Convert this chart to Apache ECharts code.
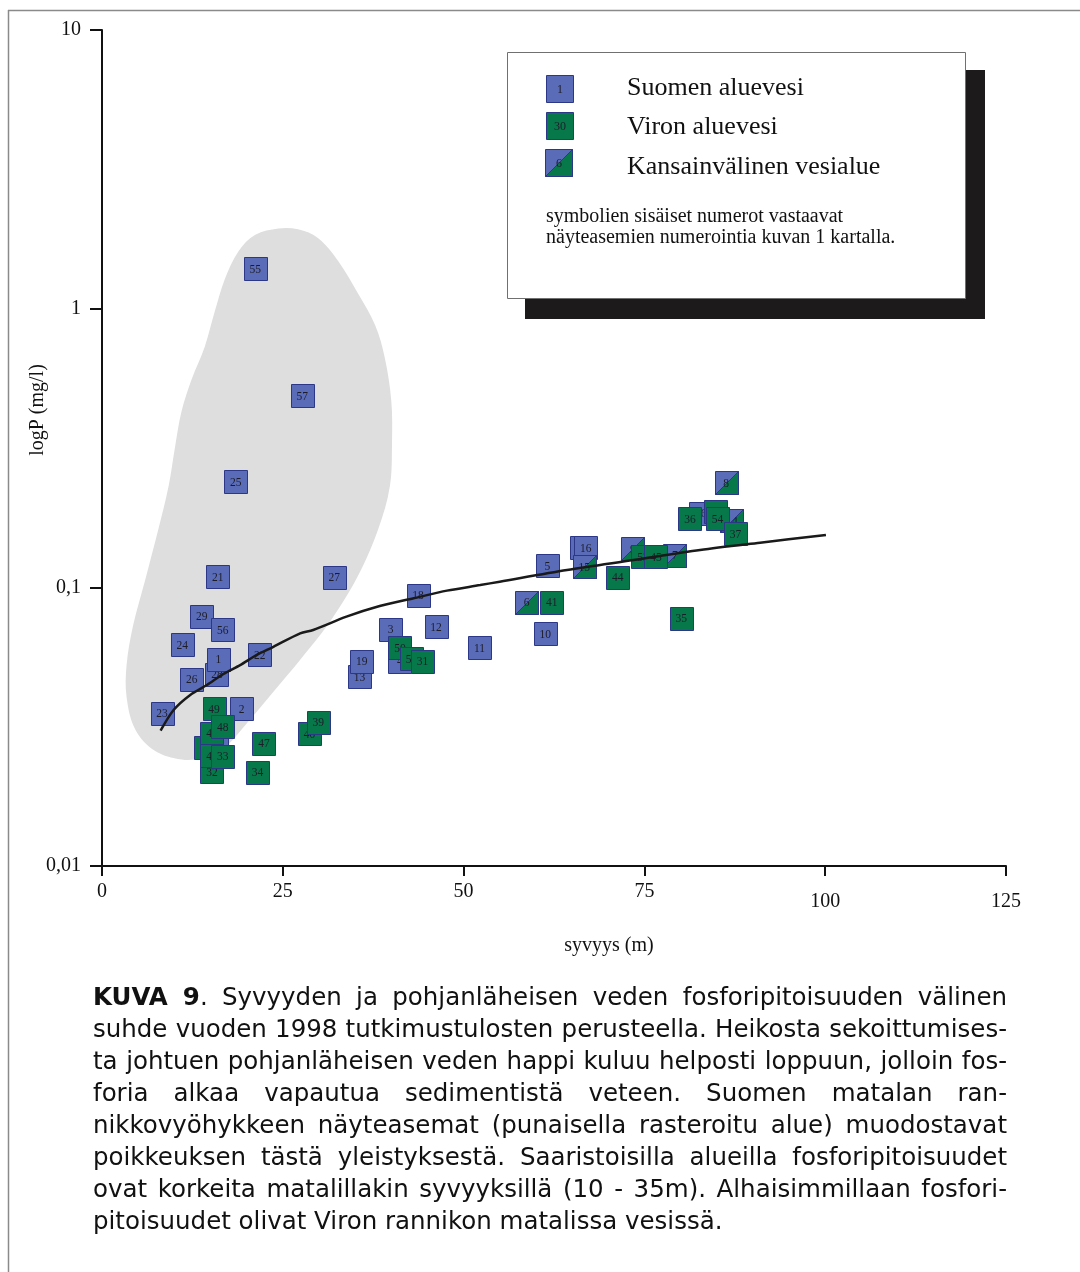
<!DOCTYPE html>
<html>
<head>
<meta charset="utf-8">
<script src="https://cdn.jsdelivr.net/npm/echarts@6/dist/echarts.min.js"></script>
<style>
html,body{margin:0;padding:0;background:#fff;}
#chart{position:absolute;left:0;top:0;width:1080px;height:1272px;}
#caption{position:absolute;left:93px;top:981px;width:914px;font-family:'DejaVu Sans',sans-serif;font-size:24.5px;line-height:32px;color:#111;}
#caption div{white-space:nowrap;height:32px;}
#caption span{white-space:nowrap;}
</style>
</head>
<body>
<div id="chart"></div>
<div id="caption">
<div><span><b>KUVA 9</b>. Syvyyden ja pohjanläheisen veden fosforipitoisuuden välinen</span></div>
<div><span>suhde vuoden 1998 tutkimustulosten perusteella. Heikosta sekoittumises-</span></div>
<div><span>ta johtuen pohjanläheisen veden happi kuluu helposti loppuun, jolloin fos-</span></div>
<div><span>foria alkaa vapautua sedimentistä veteen. Suomen matalan ran-</span></div>
<div><span>nikkovyöhykkeen näyteasemat (punaisella rasteroitu alue) muodostavat</span></div>
<div><span>poikkeuksen tästä yleistyksestä. Saaristoisilla alueilla fosforipitoisuudet</span></div>
<div><span>ovat korkeita matalillakin syvyyksillä (10 - 35m). Alhaisimmillaan fosfori-</span></div>
<div class="last"><span>pitoisuudet olivat Viron rannikon matalissa vesissä.</span></div>
</div>
<script>
// ---- data ----
const xTicks = [0, 25, 50, 75, 100, 125];
const yTicks = [0.01, 0.1, 1, 10];

// Suomen aluevesi (Finnish waters)
const suomiNo    = ['55','57','25','21','27','29','56','24','26','28','1','22','23','2','20','18','3','12','11','4','13','19','46','17','16','5','10'];
const suomiDepth = [21.2,27.7,18.5,16.0,32.1,13.8,16.7,11.1,12.4,15.9,16.1,21.8,8.3,19.3,15.8,43.7,39.9,46.2,52.2,41.2,35.6,35.9,82.8,66.3,66.9,61.6,61.3];
const suomiP     = [1.39,0.486,0.239,0.109,0.1085,0.0789,0.0703,0.0621,0.0468,0.0488,0.0553,0.0574,0.0353,0.0367,0.0272,0.0935,0.0706,0.0721,0.0607,0.0543,0.0477,0.0543,0.1848,0.1386,0.1386,0.1195,0.0682];

// Viron aluevesi (Estonian waters)
const vironNo    = ['38','43','49','48','32','42','33','47','34','40','39','50','51','31','41','44','53','45','35','36','52','54','37'];
const vironDepth = [14.3,15.2,15.5,16.7,15.2,15.2,16.7,22.4,21.5,28.7,29.9,41.2,42.8,44.3,62.2,71.3,74.8,76.6,80.1,81.3,84.8,85.1,87.6];
const vironP     = [0.0267,0.0299,0.0367,0.0316,0.0218,0.0249,0.0248,0.0276,0.0217,0.0298,0.0328,0.0608,0.0554,0.0543,0.0884,0.1086,0.1285,0.1285,0.0776,0.1763,0.1868,0.1763,0.1554];

// Kansainvälinen vesialue (international waters)
const intNo    = ['6','15','9','7','14','8'];
const intDepth = [58.7,66.7,73.4,79.2,87.1,86.3];
const intP     = [0.0884,0.1183,0.1376,0.1303,0.1734,0.2373];

// fitted trend curve
const curveDepth = [8.1,9.9,12.2,14.5,16.8,19.1,21.4,23.7,27.4,29.2,33.8,38.4,43.1,47.7,52.3,55.0,64.3,73.5,82.7,91.0,100.1];
const curveP     = [0.0306,0.0363,0.0411,0.0446,0.0489,0.0526,0.0572,0.0612,0.0684,0.0703,0.0785,0.0857,0.0914,0.0973,0.1019,0.1048,0.1154,0.1253,0.1361,0.1446,0.1541];

// shaded region (shallow Finnish coastal stations)
const blobDepth = [24.4,21.2,18.9,17.0,15.6,14.2,12.4,11.0,10.1,9.2,7.8,6.0,4.3,3.4,3.4,4.6,7.3,11.0,13.8,17.0,20.2,23.5,27.6,31.8,35.4,38.2,39.8,40.1,40.0,39.1,37.8,35.4,32.7,29.9,27.1];
const blobP     = [1.94,1.84,1.61,1.28,0.978,0.729,0.558,0.428,0.319,0.230,0.162,0.107,0.0729,0.0526,0.0404,0.0309,0.0259,0.0241,0.0244,0.0267,0.0329,0.0416,0.0558,0.0772,0.110,0.162,0.230,0.328,0.467,0.666,0.869,1.133,1.477,1.790,1.926];

const legendNames = ['Suomen aluevesi', 'Viron aluevesi', 'Kansainvälinen vesialue'];
const legendNumbers = ['1', '30', '6'];
const legendNote = ['symbolien sisäiset numerot vastaavat', 'näyteasemien numerointia kuvan 1 kartalla.'];
const xName = 'syvyys (m)';
const yName = 'logP (mg/l)';

// ---- caption justification (fit each line to the column width) ----
(function () {
  const W = 914;
  document.querySelectorAll('#caption div').forEach(div => {
    if (div.classList.contains('last')) return;
    const span = div.querySelector('span');
    const w = span.getBoundingClientRect().width;
    const n = (span.textContent.match(/ /g) || []).length;
    if (n > 0) span.style.wordSpacing = ((W - w) / n) + 'px';
  });
})();

// ---- styles ----
const BLUE = '#5a6cb7', GREEN = '#06784a', EDGE = '#2d3788', BLOB = '#dedede';
const SERIF = '"Liberation Serif", "DejaVu Serif", serif';

function zipPts(a, b) { return a.map((v, i) => [v, b[i]]); }

function markerRenderer(kind, labels) {
  return function (params, api) {
    const p = api.coord([api.value(0), api.value(1)]);
    const s = 23;
    const x0 = Math.round(p[0] - s / 2) + 0.5, y0 = Math.round(p[1] - s / 2) + 0.5;
    const ch = [];
    ch.push({ type: 'rect', shape: { x: x0, y: y0, width: s, height: s },
      style: { fill: kind === 'green' ? GREEN : BLUE, stroke: 'none' } });
    if (kind === 'split') {
      ch.push({ type: 'polygon', shape: { points: [[x0 + s, y0], [x0 + s, y0 + s], [x0, y0 + s]] },
        style: { fill: GREEN, stroke: EDGE, lineWidth: 1 } });
    }
    ch.push({ type: 'rect', shape: { x: x0, y: y0, width: s, height: s },
      style: { fill: 'none', stroke: EDGE, lineWidth: 1 } });
    ch.push({ type: 'text', style: { text: labels[params.dataIndex], x: p[0], y: p[1] + 1,
      align: 'center', verticalAlign: 'middle', fontSize: 11.5, fontFamily: SERIF, fill: '#1d1d2a' } });
    return { type: 'group', children: ch };
  };
}

function legendIcon(x, y, kind, num) {
  const s = 27, Z = 22;
  const ch = [
    { type: 'rect', z: Z, shape: { x: x, y: y, width: s, height: s }, style: { fill: kind === 'green' ? GREEN : BLUE } }
  ];
  if (kind === 'split') ch.push({ type: 'polygon', z: Z, shape: { points: [[x + s, y], [x + s, y + s], [x, y + s]] }, style: { fill: GREEN, stroke: EDGE, lineWidth: 1 } });
  ch.push({ type: 'rect', z: Z, shape: { x: x, y: y, width: s, height: s }, style: { fill: 'none', stroke: EDGE, lineWidth: 1 } });
  ch.push({ type: 'text', z: Z, style: { text: num, x: x + s / 2, y: y + s / 2 + 1, align: 'center', verticalAlign: 'middle', fontSize: 12, fontFamily: SERIF, fill: '#1d1d2a' } });
  return ch;
}

const chart = echarts.init(document.getElementById('chart'), null, { renderer: 'canvas' });

let graphics = [
  { type: 'line', shape: { x1: 8, y1: 10.5, x2: 1080, y2: 10.5 }, style: { stroke: '#8a8a8a', lineWidth: 1.5 } },
  { type: 'line', shape: { x1: 8.5, y1: 10, x2: 8.5, y2: 1272 }, style: { stroke: '#8a8a8a', lineWidth: 1.5 } },
  { type: 'rect', z: 20, shape: { x: 525, y: 70, width: 460, height: 249 }, style: { fill: '#1c1a1b' } },
  { type: 'rect', z: 21, shape: { x: 507.5, y: 52.5, width: 458, height: 246 }, style: { fill: '#fff', stroke: '#707070', lineWidth: 1 } },
  { type: 'text', x: 38, y: 410, rotation: Math.PI / 2, style: { text: yName, x: 0, y: 0, align: 'center', verticalAlign: 'middle', fontSize: 20, fontFamily: SERIF, fill: '#111' } }
];
const kinds = ['blue', 'green', 'split'];
const iconY = [75.5, 112.5, 149.5];
const textY = [88, 127, 167];
for (let i = 0; i < 3; i++) {
  graphics = graphics.concat(legendIcon(i === 2 ? 545.5 : 546.5, iconY[i], kinds[i], legendNumbers[i]));
  graphics.push({ type: 'text', z: 22, style: { text: legendNames[i], x: 627, y: textY[i], verticalAlign: 'middle',
    fontSize: 26, fontFamily: SERIF, fill: '#111' } });
}
graphics.push({ type: 'text', z: 22, style: { text: legendNote[0], x: 546, y: 217, verticalAlign: 'middle', fontSize: 20, fontFamily: SERIF, fill: '#111' } });
graphics.push({ type: 'text', z: 22, style: { text: legendNote[1], x: 546, y: 238, verticalAlign: 'middle', fontSize: 20, fontFamily: SERIF, fill: '#111' } });

const option = {
  animation: false,
  backgroundColor: '#fff',
  grid: { left: 102, right: 74, top: 30, bottom: 406, containLabel: false },
  xAxis: {
    type: 'value', min: xTicks[0], max: xTicks[xTicks.length - 1], interval: 25,
    name: xName, nameLocation: 'middle', nameGap: 70,
    nameTextStyle: { fontFamily: SERIF, fontSize: 20, color: '#111', padding: [0, 0, 0, 110] },
    axisLine: { onZero: false, lineStyle: { color: '#111', width: 2 } },
    axisTick: { length: 10, lineStyle: { color: '#111', width: 2 } },
    axisLabel: {
      margin: 16, fontFamily: SERIF, fontSize: 20, color: '#111',
      formatter: v => (v >= 100 ? '{lo|' + v + '}' : '{hi|' + v + '}'),
      rich: { hi: { fontFamily: SERIF, fontSize: 20, color: '#111' }, lo: { fontFamily: SERIF, fontSize: 20, color: '#111', padding: [10, 0, 0, 0] } }
    },
    splitLine: { show: false }
  },
  yAxis: {
    type: 'log', logBase: 10, min: yTicks[0], max: yTicks[yTicks.length - 1],
    axisLine: { onZero: false, lineStyle: { color: '#111', width: 2 } },
    axisTick: { length: 12, lineStyle: { color: '#111', width: 2 } },
    axisLabel: {
      margin: 21, fontFamily: SERIF, fontSize: 20, color: '#111',
      formatter: v => String(Number(v.toPrecision(3))).replace('.', ',')
    },
    splitLine: { show: false }
  },
  graphic: graphics,
  series: [
    {
      type: 'custom', z: 1, silent: true,
      data: [[blobDepth[0], blobP[0]]],
      renderItem: function (params, api) {
        const pts = blobDepth.map((d, i) => api.coord([d, blobP[i]]));
        return { type: 'polygon', shape: { points: pts, smooth: 0.35 }, style: { fill: BLOB } };
      }
    },
    { name: legendNames[0], type: 'custom', z: 3, data: zipPts(suomiDepth, suomiP), renderItem: markerRenderer('blue', suomiNo) },
    { name: legendNames[2], type: 'custom', z: 3, data: zipPts(intDepth, intP), renderItem: markerRenderer('split', intNo) },
    { name: legendNames[1], type: 'custom', z: 3, data: zipPts(vironDepth, vironP), renderItem: markerRenderer('green', vironNo) },
    {
      type: 'line', z: 5, data: zipPts(curveDepth, curveP), smooth: 0.3, symbol: 'none', silent: true,
      lineStyle: { color: '#1a1a1a', width: 2.5 }
    }
  ]
};
chart.setOption(option);
</script>
</body>
</html>
